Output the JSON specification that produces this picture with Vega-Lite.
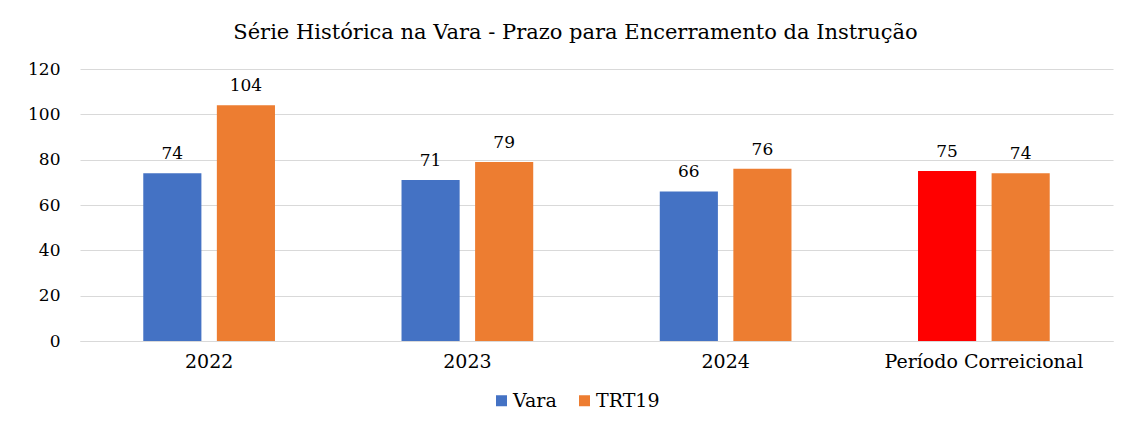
{
  "$schema": "https://vega.github.io/schema/vega-lite/v6.json",
  "width": 1033,
  "height": 272,
  "autosize": {"type": "none"},
  "padding": {"left": 80, "top": 69, "right": 21, "bottom": 86},
  "background": "white",
  "title": {
    "text": "Série Histórica na Vara - Prazo para Encerramento da Instrução",
    "font": "DejaVu Serif",
    "fontSize": 21,
    "fontWeight": "normal",
    "color": "#000000",
    "anchor": "middle",
    "dx": -21,
    "offset": 17
  },
  "config": {
    "view": {"stroke": null},
    "font": "DejaVu Serif"
  },
  "data": {
    "values": [
      {"periodo": "2022", "serie": "Vara", "valor": 74},
      {"periodo": "2022", "serie": "TRT19", "valor": 104},
      {"periodo": "2023", "serie": "Vara", "valor": 71},
      {"periodo": "2023", "serie": "TRT19", "valor": 79},
      {"periodo": "2024", "serie": "Vara", "valor": 66},
      {"periodo": "2024", "serie": "TRT19", "valor": 76},
      {"periodo": "Período Correicional", "serie": "Vara", "valor": 75},
      {"periodo": "Período Correicional", "serie": "TRT19", "valor": 74}
    ]
  },
  "encoding": {
    "x": {
      "field": "periodo",
      "type": "nominal",
      "sort": ["2022", "2023", "2024", "Período Correicional"],
      "scale": {"paddingInner": 0.49, "paddingOuter": 0.245},
      "axis": {
        "title": null,
        "labelAngle": 0,
        "labelLimit": 400,
        "labelFont": "DejaVu Serif",
        "labelFontSize": 19,
        "labelColor": "#000000",
        "labelPadding": 11,
        "ticks": false,
        "domainColor": "#d9d9d9",
        "domainWidth": 1
      }
    },
    "xOffset": {
      "field": "serie",
      "sort": ["Vara", "TRT19"],
      "scale": {"paddingInner": 0.21, "paddingOuter": 0}
    },
    "y": {
      "field": "valor",
      "type": "quantitative",
      "scale": {"domain": [0, 120]},
      "axis": {
        "title": null,
        "values": [0, 20, 40, 60, 80, 100, 120],
        "ticks": false,
        "domain": false,
        "gridColor": "#d9d9d9",
        "gridWidth": 1,
        "labelFont": "DejaVu Serif",
        "labelFontSize": 17,
        "labelColor": "#000000",
        "labelPadding": 20
      }
    }
  },
  "layer": [
    {
      "mark": {"type": "bar"},
      "encoding": {
        "color": {
          "condition": {
            "test": "datum.periodo === 'Período Correicional' && datum.serie === 'Vara'",
            "value": "#FF0000"
          },
          "field": "serie",
          "type": "nominal",
          "sort": ["Vara", "TRT19"],
          "scale": {"domain": ["Vara", "TRT19"], "range": ["#4472C4", "#ED7D31"]},
          "legend": {
            "title": null,
            "orient": "none",
            "direction": "horizontal",
            "legendX": 412,
            "legendY": 322,
            "padding": 0,
            "symbolType": "square",
            "symbolSize": 121,
            "symbolStrokeWidth": 0,
            "labelFont": "DejaVu Serif",
            "labelFontSize": 19,
            "labelColor": "#000000",
            "labelOffset": 2,
            "columnPadding": 18
          }
        }
      }
    },
    {
      "mark": {
        "type": "text",
        "baseline": "bottom",
        "dy": -10,
        "font": "DejaVu Serif",
        "fontSize": 17,
        "color": "#000000"
      },
      "encoding": {
        "text": {"field": "valor", "type": "quantitative"}
      }
    }
  ]
}
